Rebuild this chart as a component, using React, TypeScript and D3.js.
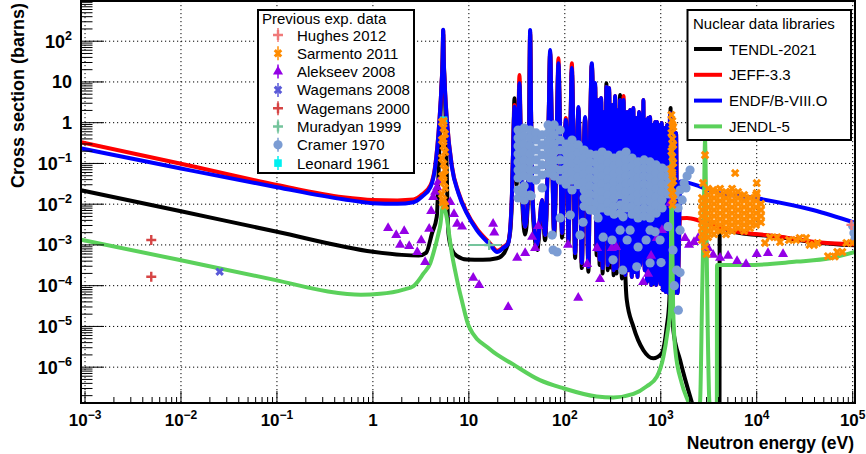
import React from 'react';
import * as d3 from 'd3';

type P = [number, number];
type Col = [number, number[]];

// ---------------- axis ticks ----------------
const xTickValues = [1e-3, 1e-2, 1e-1, 1, 10, 1e2, 1e3, 1e4, 1e5];
const xTickLabels: [string, string][] = [['10', '−3'], ['10', '−2'], ['10', '−1'], ['1', ''], ['10', ''], ['10', '2'], ['10', '3'], ['10', '4'], ['10', '5']];
const yTickValues = [1e-6, 1e-5, 1e-4, 1e-3, 1e-2, 1e-1, 1, 10, 1e2];
const yTickLabels: [string, string][] = [['10', '−6'], ['10', '−5'], ['10', '−4'], ['10', '−3'], ['10', '−2'], ['10', '−1'], ['1', ''], ['10', ''], ['10', '2']];

const xTitle = 'Neutron energy (eV)';
const yTitle = 'Cross section (barns)';

// ---------------- evaluated libraries ----------------
const libNames = ['TENDL-2021', 'JEFF-3.3', 'ENDF/B-VIII.O', 'JENDL-5'];
const libColors = ['#000000', '#ff0000', '#0000ff', '#5bd15b'];

// shared energy grid of the resolved-resonance region (eV)
const denseE = [
  28.0, 29.1, 29.9, 30.6, 31.5, 32.5, 33.7, 34.9, 36.3, 38.6,
  41.0, 42.5, 43.5, 44.6, 46.2, 51.5, 58.0, 62.3, 67.8, 70.3,
  72.9, 77.4, 82.8, 85.8, 88.9, 93.7, 99.5, 102.4, 105.7, 109.0,
  114.4, 118.3, 122.6, 128.0, 134.3, 138.6, 143.7, 150.4, 157.8, 162.8,
  168.7, 176.1, 184.4, 191.1, 198.1, 201.9, 206.9, 214.5, 222.3, 230.5,
  238.9, 247.7, 256.7, 264.2, 271.3, 279.9, 289.4, 300, 311, 322.4,
  334.2, 346.4, 359.1, 367.8, 376.7, 393.3, 409.7, 426.8, 445.7, 461.9,
  478.8, 498.7, 518.2, 534.6, 552.9, 573.2, 594.3, 611.6, 631, 644.8,
  658.9, 679.8, 703.1, 720.2, 737.6, 755.5, 773.8, 796.4, 821.7, 845.7,
  872.4, 893.6, 915.3, 937.5, 960.1, 990.4, 1024, 1052, 1082, 1122,
  1163, 1206, 1250, 1296, 1343, 1393, 1443, 1496,
];

// ENDF/B-VIII.0
const endfLow: P[] = [
  [9.1e-4, 0.235], [0.01, 0.075], [0.1, 0.026], [0.49, 0.0132], [1.0, 0.0106], [1.8, 0.0102],
  [2.65, 0.0112], [3.24, 0.0153], [4.0, 0.027], [4.46, 0.083], [4.94, 1.16], [5.15, 6], [5.33, 40],
  [5.4, 190], [5.47, 40], [5.65, 6], [5.9, 1.16], [6.65, 0.083], [7.8, 0.0185], [9.5, 0.006],
  [12.1, 0.0023], [16.7, 0.001], [19.7, 6.7e-4], [22.8, 8.4e-4], [25.7, 0.0011],
];
const endfDense = [
  0.0127, 0.376, 2.47, 0.376, 0.052, 0.376, 9.3, 0.214, 0.0127, 0.0028,
  0.0127, 1.16, 188, 1.16, 0.0127, 0.001, 0.0127, 0.00175, 1.16, 61,
  1.16, 0.0023, 1.16, 28.7, 1.16, 0.00196, 0.214, 1.16, 0.214, 0.00132,
  0.66, 22, 0.66, 6.3e-4, 0.214, 2.43, 0.122, 3.6e-4, 0.214, 1.38,
  0.069, 2.9e-4, 1.16, 28.7, 0.66, 0.0127, 9.4, 7.5e-4, 3.61, 4.3e-4,
  4.04, 2.7e-4, 1.83, 0.0023, 7.5, 3.2e-4, 7.1, 3.8e-4, 2.72, 2.4e-4,
  4.5, 2.7e-4, 2.05, 0.00132, 3.61, 2.17e-4, 3.61, 1.83e-4, 1.83, 2.4e-4,
  2.05, 1.63e-4, 2.3, 2.17e-4, 1.3, 1.63e-4, 1.83, 3.2e-4, 1.55, 7.5e-4,
  3.61, 2.4e-4, 1.16, 1.23e-4, 1.3, 1.38e-4, 1.38, 1.04e-4, 0.88, 1.16e-4,
  1.04, 1.04e-4, 1.04, 1.38e-4, 0.88, 1.1e-4, 0.98, 7.8e-5, 0.74, 7.0e-5,
  0.88, 6.6e-5, 1.73, 7.0e-5, 0.66, 6.6e-5, 0.56, 6.6e-5,
];
const endfHigh: P[] = [
  [1608, 0.036], [2570, 0.027], [3510, 0.0204], [1.0e4, 0.014], [3.86e4, 0.0072], [1.057e5, 0.0035],
];

// JEFF-3.3
const jeffLow: P[] = [
  [9.1e-4, 0.33], [0.01, 0.098], [0.1, 0.0296], [0.49, 0.0148], [1.0, 0.0127], [1.8, 0.0124],
  [2.65, 0.013], [3.24, 0.0172], [4.0, 0.03], [4.46, 0.088], [4.94, 1.2], [5.15, 6], [5.33, 40],
  [5.4, 185], [5.47, 40], [5.65, 6], [5.9, 1.2], [6.65, 0.087], [7.8, 0.0195], [9.5, 0.0064],
  [12.1, 0.0025], [16.7, 0.00108], [19.7, 7.2e-4], [22.8, 8.8e-4], [25.7, 0.00115],
];
const jeffDense = [
  0.0127, 0.376, 2.72, 0.376, 0.052, 0.376, 14.8, 0.214, 0.0127, 0.0028,
  0.0127, 1.16, 170, 1.16, 0.0127, 0.001, 0.0127, 0.00175, 1.16, 55,
  1.16, 0.0023, 1.16, 38, 1.16, 0.00196, 0.214, 1.3, 0.214, 0.00132,
  0.66, 28.7, 0.66, 6.3e-4, 0.214, 2.3, 0.122, 3.6e-4, 0.214, 1.3,
  0.069, 2.9e-4, 1.16, 26, 0.66, 0.0127, 8.5, 7.5e-4, 3.61, 4.3e-4,
  4.04, 2.7e-4, 1.83, 0.0023, 7.5, 3.2e-4, 7.1, 3.8e-4, 2.72, 2.4e-4,
  4.5, 2.7e-4, 2.05, 0.00132, 3.4, 2.17e-4, 4.5, 1.83e-4, 1.83, 2.4e-4,
  2.05, 1.63e-4, 2.3, 2.17e-4, 1.3, 1.63e-4, 1.83, 3.2e-4, 1.55, 7.5e-4,
  3.61, 2.4e-4, 1.16, 1.23e-4, 1.3, 1.38e-4, 1.38, 1.04e-4, 0.88, 1.16e-4,
  1.04, 1.04e-4, 1.04, 1.38e-4, 0.88, 1.1e-4, 0.98, 7.8e-5, 0.74, 7.0e-5,
  0.88, 6.6e-5, 1.73, 7.0e-5, 0.66, 6.6e-5, 0.56, 6.6e-5,
];
const jeffHigh: P[] = [
  [1590, 0.0045], [1880, 0.0046], [2570, 0.0039], [5250, 0.0023], [1.75e4, 0.0016], [3.86e4, 0.0012], [1.057e5, 0.00103],
];

// TENDL-2021
const tendlLow: P[] = [
  [9.1e-4, 0.022], [0.01, 0.0067], [0.1, 0.0021], [1.0, 6.8e-4], [2.0, 5.7e-4], [3.0, 5.5e-4],
  [3.6, 6.5e-4], [4.12, 0.0019], [4.63, 0.0049], [4.94, 0.3], [5.15, 5], [5.33, 35], [5.4, 150],
  [5.47, 35], [5.65, 5], [5.8, 0.3], [6.13, 0.0019], [6.6, 8e-4], [7.5, 5.4e-4], [9.5, 4.4e-4],
  [14, 4.3e-4], [19.7, 4.7e-4], [23.5, 6.5e-4], [26.9, 0.002],
];
const tendlDense = [
  0.01, 0.4, 3.97, 0.3, 0.03, 0.3, 8, 0.15, 0.008, 0.0018,
  0.009, 1.0, 150, 1.0, 0.008, 7.5e-4, 0.01, 0.0013, 1.0, 50,
  1.0, 0.0017, 1.0, 25, 1.0, 0.0015, 0.18, 1.0, 0.18, 0.001,
  0.55, 18, 0.55, 4.8e-4, 0.18, 2.0, 0.1, 2.7e-4, 0.18, 1.2,
  0.06, 2.2e-4, 1.0, 25, 0.55, 0.01, 8, 5.6e-4, 3.0, 3.2e-4,
  3.5, 2.0e-4, 1.5, 0.0017, 9.3, 2.4e-4, 6.0, 2.8e-4, 2.4, 1.8e-4,
  4.0, 2.0e-4, 1.8, 0.001, 4.8,
];
const tendlHigh: P[] = [
  [393.3, 1.5e-4], [409.7, 2.0], [420, 0.001], [442, 4.5e-5], [518, 9.9e-6], [659, 2.6e-6],
  [837, 1.65e-6], [1024, 2.2e-6], [1155, 9.9e-6], [1229, 4.5e-5], [1252, 0.001], [1265, 2.3],
  [1280, 0.001], [1352, 8.1e-6], [1589, 1.5e-6], [2104, 1.4e-7], [2600, 3e-8], [4090, 3e-8],
  [4110, 0.0028], [5250, 0.0022], [1.75e4, 0.00155], [3.86e4, 0.00117], [1.057e5, 0.00098],
];

// JENDL-5
const jendl: P[] = [
  [9.1e-4, 0.00135], [0.01, 4.2e-4], [0.1, 1.35e-4], [0.33, 7.3e-5], [0.75, 6.0e-5], [1.19, 6.3e-5],
  [2.08, 8.0e-5], [2.65, 9.8e-5], [3.37, 2.0e-4], [3.95, 3.5e-4], [4.27, 6.3e-4], [4.82, 1.9e-3],
  [5.05, 3.2e-3], [5.25, 7.0e-3], [5.42, 0.0097], [5.62, 0.0075], [5.9, 0.0045], [6.25, 0.0017],
  [6.65, 6.2e-4], [7.2, 2.3e-4], [7.8, 9.5e-5], [8.4, 4.6e-5], [10, 1.0e-5], [16.7, 2.7e-6],
  [29, 1.17e-6], [55, 4.8e-7], [98, 3.0e-7], [215, 1.9e-7], [320, 1.8e-7], [520, 2.2e-7],
  [715, 3.4e-7], [910, 5.8e-7], [1065, 1.8e-6], [1170, 6.8e-6], [1250, 2.6e-5], [1280, 0.002],
  [1296, 0.3], [1315, 0.002], [1345, 3e-5], [1410, 3e-6], [1655, 4.0e-7], [1939, 1.4e-7],
  [2300, 5e-8], [2567, 1.4e-7], [2700, 7e-5], [2820, 0.011], [2893, 0.37], [2970, 0.0085],
  [3080, 1.2e-5], [3210, 1.4e-7], [3500, 5e-8], [3840, 5e-8], [3855, 3.2e-4], [7870, 3.2e-4],
  [2.6e4, 3.9e-4], [5.8e4, 4.7e-4], [1.057e5, 6.7e-4],
];

// ---------------- experimental data ----------------
const expNames = ['Hughes 2012', 'Sarmento 2011', 'Alekseev 2008', 'Wagemans 2008', 'Wagemans 2000', 'Muradyan 1999', 'Cramer 1970', 'Leonard 1961'];
const expColors = ['#f07a7a', '#ff8c00', '#9400e6', '#5a5ad8', '#d64545', '#74c49c', '#7b9cd3', '#00f0f0'];
const expKinds = ['plus', 'xcross', 'triangle', 'xcross', 'plus', 'plus', 'circle', 'square'];

const hughes2012: P[] = [[9.7e4, 0.0031]];

const sarmentoFlat: P[] = [
  [5.25, 1.04], [5.45, 0.74], [5.65, 0.53], [5.25, 0.376], [5.45, 0.268], [5.65, 0.19], [5.25, 0.136],
  [5.45, 0.097], [5.65, 0.069], [5.25, 0.049], [5.45, 0.035], [5.65, 0.025], [5.25, 0.0178],
  [5.45, 0.0127], [5.65, 0.0091], [5.45, 1.1], [5.45, 0.4], [5.45, 0.05], [5.35, 0.011],
  [1290, 1.55], [1320, 1.1], [1350, 0.785], [1290, 0.56], [1320, 0.40], [1350, 0.284], [1290, 0.20],
  [1320, 0.144], [1350, 0.103], [1290, 0.073], [1320, 0.052], [1350, 0.037], [1290, 0.026],
  [1320, 0.0187], [1350, 0.0134], [1320, 0.0096], [1320, 0.9], [1320, 0.3], [1320, 0.06],
  [2890, 0.16], [5960, 0.058], [1.0e4, 0.033], [1.0e4, 0.0187], [3000, 6e-4], [2890, 9e-4],
  [2758, 0.033], [3510, 0.0223], [5270, 0.020],
  [1.22e4, 0.00112], [1.37e4, 0.00155], [1.63e4, 0.00155], [1.75e4, 0.00118], [2.17e4, 0.00132],
  [2.57e4, 0.00132], [2.8e4, 0.00148], [3.27e4, 0.00148], [3.55e4, 0.001], [3.95e4, 0.001],
  [4.3e4, 0.00112], [5.53e4, 5.3e-4], [6.5e4, 5.2e-4], [6.9e4, 6.7e-4], [7.8e4, 6.7e-4],
  [8.6e4, 0.00112], [1.0e5, 0.00112],
];
const sarmentoColumns: Col[] = [
  [2690, [0.0142, 0.0102, 0.0072, 0.0051, 0.0036, 0.0026, 0.00183, 0.00132]],
  [3110, [0.024, 0.0168, 0.012, 0.0085, 0.006, 0.0043, 0.0031, 0.0022, 0.00155]],
  [3590, [0.020, 0.0142, 0.0102, 0.0072, 0.0051, 0.0036, 0.0026, 0.00183]],
  [4150, [0.024, 0.0168, 0.012, 0.0085, 0.006, 0.0043, 0.0031, 0.0022]],
  [4790, [0.020, 0.0142, 0.0102, 0.0072, 0.0051, 0.0036, 0.0026, 0.00183]],
  [5530, [0.024, 0.0168, 0.012, 0.0085, 0.006, 0.0043, 0.0031, 0.0022]],
  [6390, [0.020, 0.0142, 0.0102, 0.0072, 0.0051, 0.0036, 0.0026]],
  [7380, [0.0168, 0.012, 0.0085, 0.006, 0.0043, 0.0031, 0.0022]],
  [8510, [0.0142, 0.0102, 0.0072, 0.0051, 0.0036, 0.0026]],
  [9840, [0.0168, 0.012, 0.0085, 0.006, 0.0043, 0.0031]],
  [11090, [0.0102, 0.0072, 0.0051, 0.0036]],
];

const alekseev2008: P[] = [
  [1.44, 2.6e-3], [1.75, 1.75e-3], [2.12, 2.2e-3], [1.92, 1.0e-3], [2.39, 9.4e-4], [2.9, 6.7e-4],
  [3.19, 1.3e-3], [3.86, 2.5e-3], [3.5, 3.8e-4], [4.05, 6.8e-3], [4.25, 0.015], [4.46, 0.020],
  [4.67, 0.026], [4.79, 0.035], [6.4, 0.0113], [7.0, 5.7e-3], [7.55, 3.3e-3], [8.5, 2.8e-3],
  [11.1, 1.55e-4], [12.8, 1.04e-4], [17.9, 3.3e-3], [18.4, 2.0e-3], [25.7, 3.0e-5], [31.9, 4.8e-4],
  [38.6, 6.3e-4], [45.6, 1.57e-3], [49, 8.4e-4], [52.7, 2.9e-3], [108, 1.0e-3], [138, 5.0e-5],
  [171, 3.4e-4], [217, 8.4e-4], [233, 1.46e-4], [309, 8.4e-4], [343, 8.9e-4], [655, 1.23e-4],
  [738, 1.94e-4], [793, 5.4e-4], [912, 1.48e-3], [1030, 2.3e-3], [1250, 0.0107], [1790, 1.48e-3],
  [1970, 1.0e-3], [2220, 1.18e-3], [2450, 1.48e-3], [3110, 8.4e-4], [3510, 5.7e-4], [4150, 4.8e-4],
  [5030, 5.4e-4], [6240, 4.0e-4], [7740, 3.4e-4], [1.0e4, 6.0e-4], [1.31e4, 6.3e-4], [1.88e4, 6.0e-4],
];

const wagemans2008: P[] = [[0.0253, 2.2e-4]];
const wagemans2000: P[] = [[0.0049, 0.00132], [0.0049, 1.66e-4]];
const muradyan1999: P[] = [[16.3, 0.001]];
const muradyanXErr: P[] = [[9.9, 21.6]];
const leonard1961: P[] = [[5.45, 1.15]];

const cramerColumns: Col[] = [
  [32.6, [0.66, 0.42, 0.268, 0.17, 0.109, 0.069, 0.044, 0.0223, 0.0142]],
  [35.0, [0.56, 0.30, 0.19, 0.087, 0.055]],
  [37.7, [0.74, 0.47, 0.30, 0.19, 0.122, 0.077, 0.049, 0.028, 0.0127]],
  [43.5, [0.66, 0.42, 0.268, 0.17, 0.109, 0.069, 0.044, 0.0168]],
  [50.2, [0.56, 0.376, 0.214, 0.122, 0.069, 0.039]],
  [58.0, [0.50, 0.284, 0.161, 0.092, 0.052]],
  [67.0, [0.88, 0.56, 0.355, 0.226, 0.144, 0.092, 0.058]],
  [72.0, [0.70, 0.42, 0.19, 0.115, 0.073]],
  [77.4, [0.88, 0.50, 0.30, 0.19, 0.122, 0.077, 0.049]],
  [89.4, [0.66, 0.376, 0.214, 0.122, 0.069, 0.039]],
  [103, [0.30, 0.19, 0.122, 0.077, 0.049, 0.031]],
  [119, [0.376, 0.24, 0.152, 0.097, 0.062, 0.039, 0.0223]],
  [138, [0.284, 0.18, 0.115, 0.073, 0.047, 0.030]],
  [159, [0.214, 0.136, 0.087, 0.055, 0.035, 0.0223, 0.0142, 0.0089]],
  [183, [0.17, 0.109, 0.069, 0.044, 0.028, 0.0178, 0.0114, 0.0072]],
  [212, [0.161, 0.103, 0.065, 0.041, 0.026, 0.0168, 0.0107, 0.0067]],
  [245, [0.19, 0.122, 0.077, 0.049, 0.031, 0.020, 0.0127, 0.0081]],
  [282, [0.161, 0.103, 0.065, 0.041, 0.026, 0.0168, 0.0107, 0.0067]],
  [326, [0.136, 0.087, 0.055, 0.035, 0.0223, 0.0142, 0.0089, 0.0057]],
  [377, [0.161, 0.103, 0.065, 0.041, 0.026, 0.0168, 0.0096, 0.006]],
  [435, [0.19, 0.122, 0.077, 0.049, 0.031, 0.020, 0.0127, 0.0081]],
  [502, [0.136, 0.087, 0.055, 0.035, 0.0223, 0.0142, 0.0089, 0.0057]],
  [580, [0.109, 0.069, 0.044, 0.028, 0.0178, 0.0114, 0.0072, 0.0046]],
  [670, [0.122, 0.077, 0.049, 0.031, 0.020, 0.0127, 0.0081, 0.0051]],
  [774, [0.109, 0.069, 0.044, 0.028, 0.0178, 0.0114, 0.0072, 0.0046]],
  [894, [0.092, 0.058, 0.037, 0.024, 0.015, 0.0096, 0.006]],
  [1032, [0.077, 0.049, 0.031, 0.020, 0.0127, 0.0081]],
  [1191, [0.069, 0.044, 0.028, 0.0178]],
];
const cramerFlat: P[] = [
  [36.8, 0.019], [44.6, 0.0159], [58, 0.025], [73.8, 0.00175], [75.5, 7.5e-4], [83.1, 6.7e-4],
  [89.4, 0.0046], [114, 0.0054], [144, 0.00175], [155, 0.0036], [192, 0.0072], [222, 0.0046],
  [251, 0.00155], [311, 0.00132], [318, 4.3e-4], [402, 2.4e-4], [377, 0.0023], [405, 0.0049],
  [446, 0.00132], [479, 0.0023], [562, 2.9e-4], [580, 8.9e-4], [703, 0.00132], [774, 0.0023],
  [774, 3.6e-4], [872, 0.0021], [984, 0.00132], [1007, 3.7e-4], [1191, 0.0028], [1343, 7.5e-4],
  [1468, 2.4e-4], [1385, 1.0e-4], [1525, 2.5e-5], [1589, 2.1e-4], [1589, 0.0023], [1514, 0.0081],
  [1409, 0.0168], [1589, 0.0223], [1750, 0.033], [1880, 0.049], [2019, 0.069], [1670, 0.0127],
  [1834, 0.025], [1.0e5, 0.0029], [1.03e5, 0.00196], [1.057e5, 0.0014],
];

// ---------------- layout ----------------
const W = 866, H = 454;
const X0 = 81, X1 = 855, Y0 = 1, Y1 = 403;
const FONT = "'Liberation Sans', Arial, Helvetica, sans-serif";

const flatten = (cols: Col[]): P[] => cols.flatMap(([e, ss]) => ss.map((s) => [e, s] as P));

const triPath = d3.symbol().type(d3.symbolTriangle).size(44)() as string;
const crossPath = d3.symbol().type(d3.symbolCross).size(46)() as string;

function Marker({ kind, color, cx, cy }: { kind: string; color: string; cx: number; cy: number }) {
  if (kind === 'circle') return <circle cx={cx} cy={cy} r={4.6} fill={color} />;
  if (kind === 'square') return <rect x={cx - 3.8} y={cy - 3.8} width={7.6} height={7.6} fill={color} />;
  if (kind === 'plus')
    return <path d={`M${cx - 5},${cy}H${cx + 5}M${cx},${cy - 5}V${cy + 5}`} stroke={color} strokeWidth={2.4} fill="none" />;
  if (kind === 'xcross') return <path d={crossPath} transform={`translate(${cx},${cy}) rotate(45)`} fill={color} />;
  return <path d={triPath} transform={`translate(${cx},${cy})`} fill={color} />;
}

export default function App() {
  const x = d3.scaleLog().domain([9.08e-4, 1.057e5]).range([X0, X1]);
  const y = d3.scaleLog().domain([1.32e-7, 970]).range([Y1, Y0]);

  const line = d3
    .line<P>()
    .x((d) => x(d[0]))
    .y((d) => y(d[1]))
    .curve(d3.curveMonotoneX);

  const endf: P[] = [...endfLow, ...denseE.map((e, i) => [e, endfDense[i]] as P), ...endfHigh];
  const jeff: P[] = [...jeffLow, ...denseE.map((e, i) => [e, jeffDense[i]] as P), ...jeffHigh];
  const tendl: P[] = [...tendlLow, ...tendlDense.map((s, i) => [denseE[i], s] as P), ...tendlHigh];
  const libs = [tendl, jeff, endf, jendl];

  const sarmento = [...sarmentoFlat, ...flatten(sarmentoColumns)];
  const cramer = [...flatten(cramerColumns), ...cramerFlat];

  // minor ticks
  const xMinor: number[] = [];
  for (let p = -4; p <= 5; p++) for (let k = 2; k <= 9; k++) {
    const v = k * Math.pow(10, p);
    if (v > x.domain()[0] && v < x.domain()[1]) xMinor.push(v);
  }
  const yMinor: number[] = [];
  for (let p = -7; p <= 2; p++) for (let k = 2; k <= 9; k++) {
    const v = k * Math.pow(10, p);
    if (v > y.domain()[0] && v < y.domain()[1]) yMinor.push(v);
  }

  const sets: { data: P[]; idx: number }[] = [
    { data: alekseev2008, idx: 2 },
    { data: cramer, idx: 6 },
    { data: wagemans2008, idx: 3 },
    { data: wagemans2000, idx: 4 },
    { data: leonard1961, idx: 7 },
    { data: sarmento, idx: 1 },
    { data: hughes2012, idx: 0 },
    { data: muradyan1999, idx: 5 },
  ];

  const legY = (i: number) => 35 + i * 18.3;
  const lib2Y = (i: number) => 49 + i * 25.8;

  return (
    <svg width={W} height={H} style={{ position: 'absolute', left: 0, top: 0, background: '#fff' }} fontFamily={FONT}>
      <defs>
        <clipPath id="plotclip">
          <rect x={X0} y={Y0} width={X1 - X0} height={Y1 - Y0} />
        </clipPath>
      </defs>
      <rect x={0} y={0} width={W} height={H} fill="#fff" />

      {/* grid */}
      <g stroke="#000" strokeWidth={1} strokeDasharray="1.2,2.8">
        {xTickValues.map((v) => (
          <line key={'gx' + v} x1={x(v)} x2={x(v)} y1={Y0} y2={Y1} />
        ))}
        {yTickValues.map((v) => (
          <line key={'gy' + v} x1={X0} x2={X1} y1={y(v)} y2={y(v)} />
        ))}
      </g>

      {/* libraries */}
      <g clipPath="url(#plotclip)" fill="none" strokeLinejoin="round" strokeLinecap="round">
        {libs.map((d, i) => (
          <path key={'lib' + i} d={line(d) || ''} stroke={libColors[i]} strokeWidth={4} />
        ))}
      </g>

      {/* experimental data */}
      <g clipPath="url(#plotclip)">
        {muradyanXErr.map((r, i) => (
          <line key={'mxe' + i} x1={x(r[0])} x2={x(r[1])} y1={y(muradyan1999[i][1])} y2={y(muradyan1999[i][1])} stroke={expColors[5]} strokeWidth={2} />
        ))}
        {sets.map((s) =>
          s.data.map((d, j) => (
            <Marker key={s.idx + '-' + j} kind={expKinds[s.idx]} color={expColors[s.idx]} cx={x(d[0])} cy={y(d[1])} />
          ))
        )}
      </g>

      {/* axes ticks */}
      <g stroke="#000" strokeWidth={1}>
        {xTickValues.map((v) => (
          <line key={'tx' + v} x1={x(v)} x2={x(v)} y1={Y1} y2={Y1 - 12} />
        ))}
        {xMinor.map((v) => (
          <line key={'mx' + v} x1={x(v)} x2={x(v)} y1={Y1} y2={Y1 - 6} />
        ))}
        {yTickValues.map((v) => (
          <line key={'ty' + v} x1={X0} x2={X0 + 23} y1={y(v)} y2={y(v)} />
        ))}
        {yMinor.map((v) => (
          <line key={'my' + v} x1={X0} x2={X0 + 11.5} y1={y(v)} y2={y(v)} />
        ))}
      </g>
      <rect x={X0} y={Y0} width={X1 - X0} height={Y1 - Y0} fill="none" stroke="#000" strokeWidth={2} />

      {/* tick labels */}
      <g fontWeight="bold" fill="#000">
        {xTickValues.map((v, i) => (
          <text key={'lx' + v} x={x(v)} y={426} textAnchor="middle" fontSize={17}>
            {xTickLabels[i][0]}
            {xTickLabels[i][1] && (
              <tspan dy={-7} fontSize={12}>
                {xTickLabels[i][1]}
              </tspan>
            )}
          </text>
        ))}
        {yTickValues.map((v, i) => (
          <text key={'ly' + v} x={72} y={y(v) + 6.5} textAnchor="end" fontSize={18}>
            {yTickLabels[i][0]}
            {yTickLabels[i][1] && (
              <tspan dy={-7.5} fontSize={12.5}>
                {yTickLabels[i][1]}
              </tspan>
            )}
          </text>
        ))}
        <text x={854} y={449} textAnchor="end" fontSize={17.5}>
          {xTitle}
        </text>
        <text transform="translate(24,3) rotate(-90)" textAnchor="end" fontSize={18}>
          {yTitle}
        </text>
      </g>

      {/* legend: experimental */}
      <g>
        <rect x={258} y={10} width={156} height={163} fill="#fff" stroke="#000" strokeWidth={2} />
        <text x={262} y={24} fontSize={15}>
          Previous exp. data
        </text>
        {expNames.map((n, i) => (
          <g key={'le' + i}>
            <line x1={278} x2={278} y1={legY(i) - 7} y2={legY(i) + 7} stroke={expColors[i]} strokeWidth={1.5} />
            <Marker kind={expKinds[i]} color={expColors[i]} cx={278} cy={legY(i)} />
            <text x={297} y={legY(i) + 5.5} fontSize={15}>
              {n}
            </text>
          </g>
        ))}
      </g>

      {/* legend: libraries */}
      <g>
        <rect x={687.5} y={10} width={163.5} height={130} fill="#fff" stroke="#000" strokeWidth={2} />
        <text x={693} y={29} fontSize={15}>
          Nuclear data libraries
        </text>
        {libNames.map((n, i) => (
          <g key={'ll' + i}>
            <line x1={694} x2={722} y1={lib2Y(i)} y2={lib2Y(i)} stroke={libColors[i]} strokeWidth={4} />
            <text x={729} y={lib2Y(i) + 5.5} fontSize={15}>
              {n}
            </text>
          </g>
        ))}
      </g>
    </svg>
  );
}
